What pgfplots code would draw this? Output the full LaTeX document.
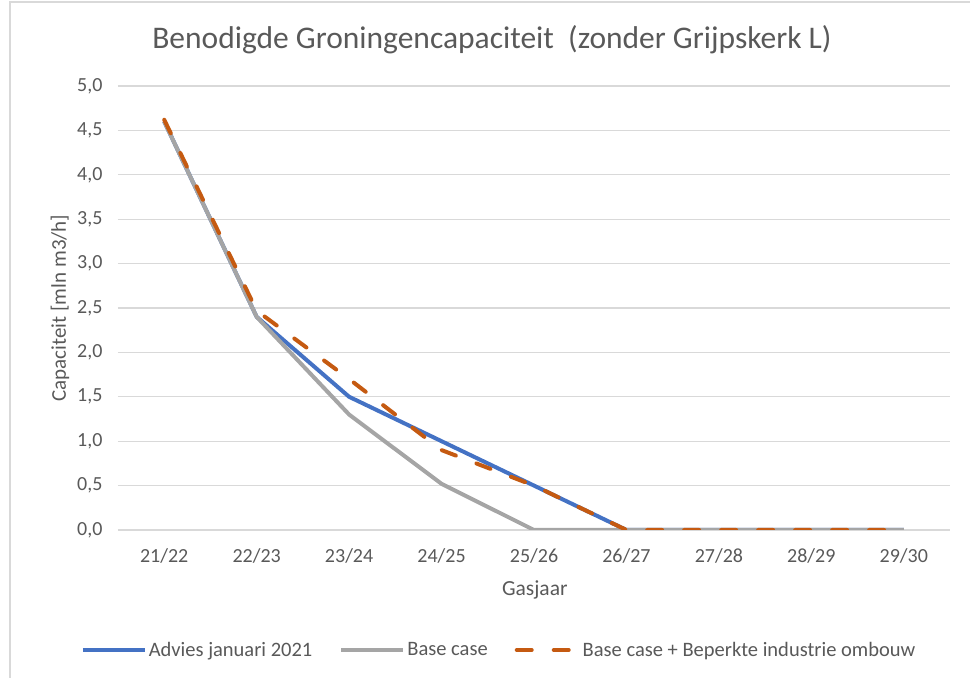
\documentclass[border=0pt]{standalone}
\usepackage{pgfplots}
\pgfplotsset{compat=1.18}
\usepackage{fontspec}
\setmainfont{Carlito}
\definecolor{txt}{HTML}{595959}
\definecolor{grd}{HTML}{D9D9D9}
\definecolor{cblue}{HTML}{4472C4}
\definecolor{cgray}{HTML}{A5A5A5}
\definecolor{corange}{HTML}{C55A11}
\begin{document}
\begin{tikzpicture}
\begin{axis}[
    scale only axis,
    width=832pt, height=444pt,
    xmin=-0.5, xmax=8.5,
    ymin=0, ymax=5,
    xtick={0,...,8},
    xticklabels={21/22,22/23,23/24,24/25,25/26,26/27,27/28,28/29,29/30},
    ytick={0,0.5,...,5},
    ymajorgrids, grid style={grd, line width=1.2pt},
    axis line style={draw=none},
    major tick length=0pt,
    tick label style={font=\fontsize{20}{24}\selectfont, text=txt},
    xticklabel style={yshift=-15pt},
    yticklabel style={xshift=-12pt},
    /pgf/number format/.cd, use comma, fixed, fixed zerofill, precision=1, assume math mode=true,
    /pgfplots/.cd,
    title={Benodigde Groningencapaciteit\ \ (zonder Grijpskerk L)},
    title style={font=\fontsize{31.5}{36}\selectfont, text=txt, at={(axis description cs:0.4495,1)}, anchor=center, yshift=40pt},
    xlabel={Gasjaar},
    xlabel style={font=\fontsize{21.5}{25}\selectfont, text=txt, at={(axis description cs:0.501,0)}, anchor=center, yshift=-60pt},
    ylabel={Capaciteit [mln m3/h]},
    ylabel style={font=\fontsize{21}{25}\selectfont, text=txt, at={(axis description cs:0,0.5)}, anchor=center, yshift=58pt},
    legend columns=-1,
    legend style={draw=none, at={(axis description cs:0.458,0)}, anchor=center, yshift=-120pt,
        font=\fontsize{20.5}{24}\selectfont, text=txt, nodes={inner sep=2pt},
        /tikz/every even column/.append style={column sep=25pt}},
    legend image code/.code={\draw[#1] (0pt,0pt) -- (62pt,0pt);},
    every axis plot/.append style={line width=4pt, line join=round, mark=none},
]
\addplot[cblue] coordinates {(0,4.6) (1,2.4) (2,1.5) (3,1.0) (4,0.5) (5,0) (6,0) (7,0) (8,0)};
\addlegendentry{Advies januari 2021}
\addplot[cgray] coordinates {(0,4.6) (1,2.4) (2,1.3) (3,0.52) (4,0) (5,0) (6,0) (7,0) (8,0)};
\addlegendentry{Base case}
\addplot[corange, line cap=round, dash pattern=on 15pt off 22pt] coordinates {(0,4.62) (1,2.47) (2,1.7) (3,0.9) (4,0.5) (5,0) (6,0) (7,0) (8,0)};
\addlegendentry{Base case + Beperkte industrie ombouw}
\end{axis}
\pgfresetboundingbox
\path[use as bounding box] ([xshift=-118pt,yshift=-148pt]current axis.south west) rectangle ([xshift=20pt,yshift=86pt]current axis.north east);
\draw[grd, line width=1.5pt] ([xshift=-108pt,yshift=-150pt]current axis.south west) -- ([xshift=-108pt,yshift=84pt]current axis.north west) -- ([xshift=22pt,yshift=84pt]current axis.north east);
\end{tikzpicture}
\end{document}
